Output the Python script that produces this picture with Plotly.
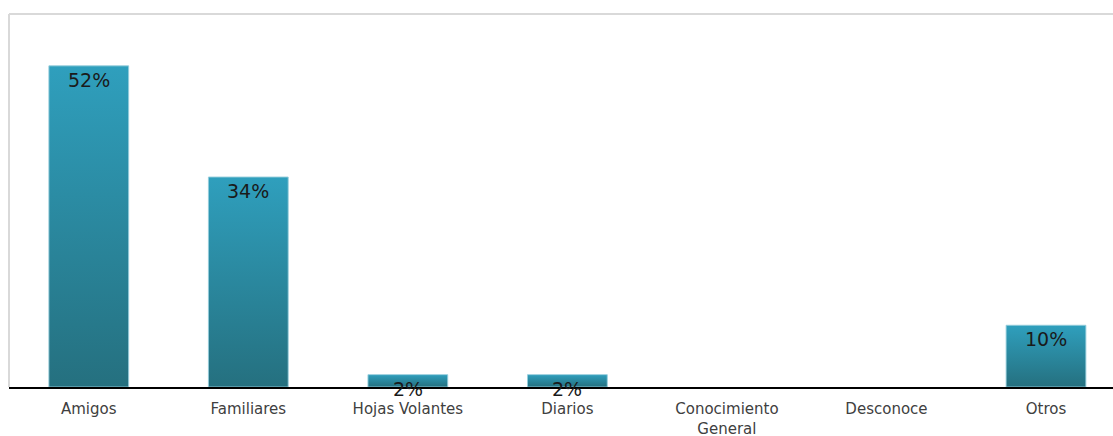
import plotly.graph_objects as go

categories = ["Amigos", "Familiares", "Hojas Volantes", "Diarios",
              "Conocimiento<br>General", "Desconoce", "Otros"]
values = [52, 34, 2, 2, 0, 0, 10]
labels = ["52%", "34%", "2%", "2%", "", "", "10%"]

BAR_W = 0.5
TOP_COLOR = "#2f9fbd"
BOTTOM_COLOR = "#25707f"

fig = go.Figure()

# each bar is a filled rectangle with its own vertical gradient
for i, v in enumerate(values):
    if v <= 0:
        continue
    x0, x1 = i - BAR_W / 2, i + BAR_W / 2
    fig.add_trace(go.Scatter(
        x=[x0, x1, x1, x0, x0],
        y=[0, 0, v, v, 0],
        mode="lines",
        fill="toself",
        line=dict(color="rgba(150,205,220,0.9)", width=1),
        fillgradient=dict(type="vertical", start=0, stop=v,
                          colorscale=[[0, BOTTOM_COLOR], [1, TOP_COLOR]]),
        hoverinfo="skip",
        showlegend=False,
    ))

for i, (v, t) in enumerate(zip(values, labels)):
    if not t:
        continue
    fig.add_annotation(
        x=i, y=v, text=t, showarrow=False, yanchor="top", yshift=-1,
        font=dict(family="DejaVu Sans", size=19, color="#1a1a1a"),
    )

# light frame on the left and top of the plotting area
fig.add_shape(type="line", xref="paper", yref="paper", x0=0, x1=0, y0=0, y1=1,
              line=dict(color="#d9d9d9", width=2), layer="below")
fig.add_shape(type="line", xref="paper", yref="paper", x0=0, x1=1, y0=1, y1=1,
              line=dict(color="#d9d9d9", width=2), layer="below")

fig.update_layout(
    width=1113, height=436,
    margin=dict(l=9, r=0, t=14, b=49),
    plot_bgcolor="white", paper_bgcolor="white",
    xaxis=dict(
        range=[-0.5, 6.42], tickmode="array",
        tickvals=list(range(len(categories))), ticktext=categories,
        showgrid=False, zeroline=False,
        showline=True, linecolor="black", linewidth=2,
        ticks="", ticklabelstandoff=7, automargin=False,
        tickfont=dict(family="DejaVu Sans", size=15, color="#404040"),
    ),
    yaxis=dict(range=[0, 60.4], showgrid=False, zeroline=False,
               showticklabels=False, showline=False, automargin=False),
)

fig.write_html("out.html")
